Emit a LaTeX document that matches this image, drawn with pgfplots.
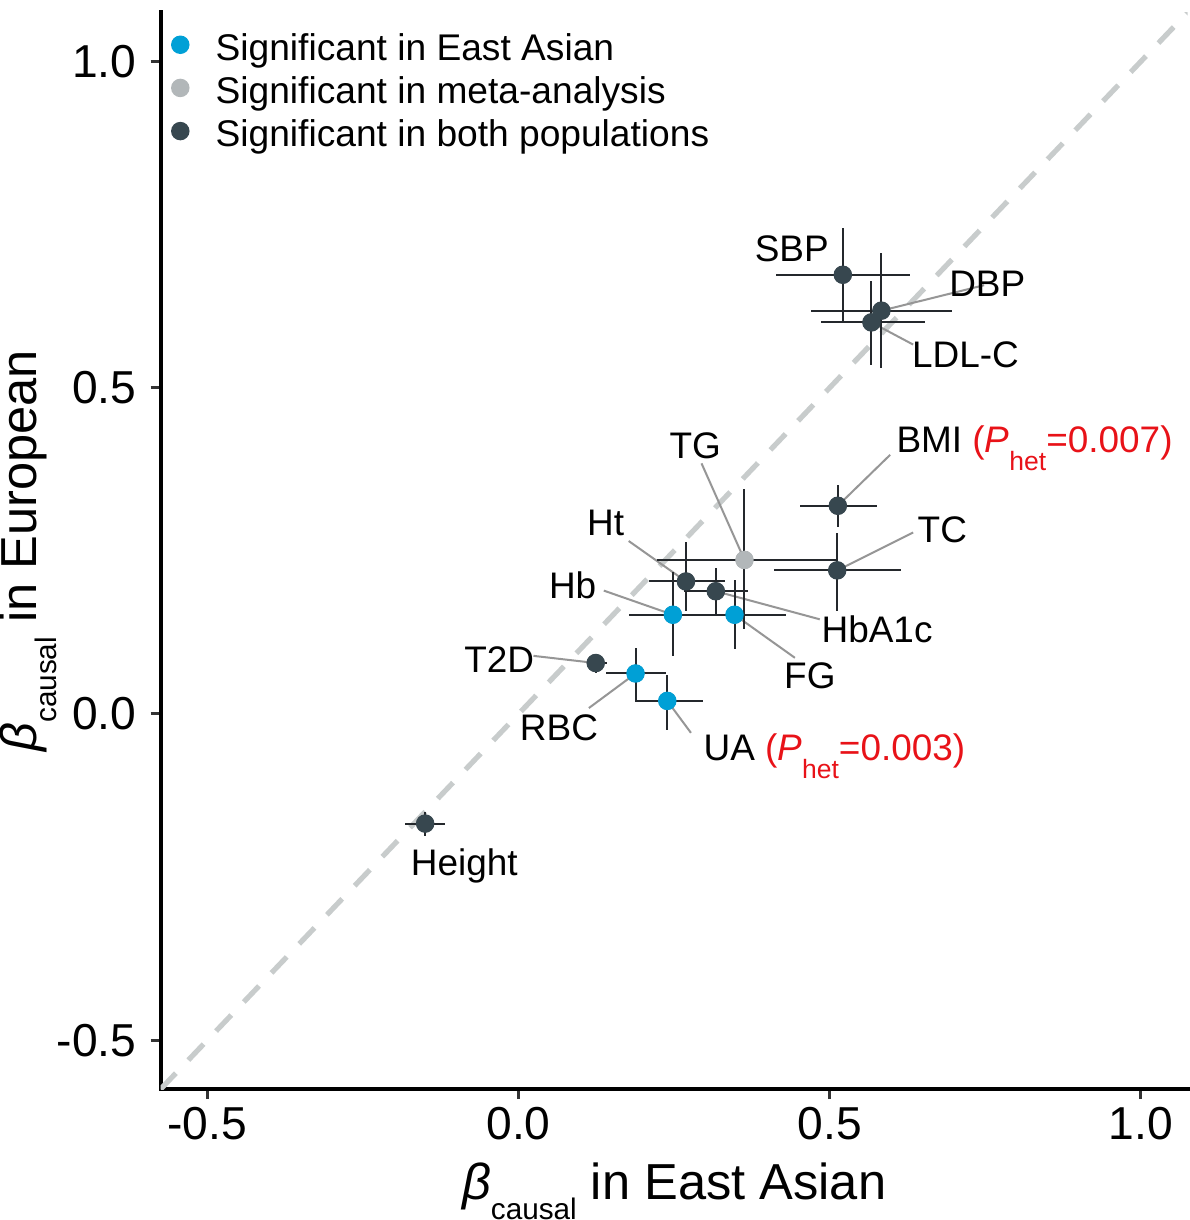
\documentclass[border=0pt]{standalone}
\usepackage{fontspec}
\setmainfont{Liberation Sans}
\usepackage{pgfplots}
\pgfplotsset{compat=1.18}
\usepackage{pgfplotstable}

\definecolor{cblue}{RGB}{0,160,214}
\definecolor{cgrey}{RGB}{178,183,185}
\definecolor{cdark}{RGB}{55,71,79}
\definecolor{cbar}{RGB}{36,40,44}
\definecolor{clead}{RGB}{150,150,150}
\definecolor{cdash}{RGB}{200,204,204}
\definecolor{cred}{RGB}{232,18,24}

% Significant in both populations
\pgfplotstableread{
name x y xm xp ym yp
Height -0.150 -0.168 0.033 0.032 0.019 0.017
T2D 0.124 0.078 0.014 0.018 0.015 0.011
Ht 0.269 0.203 0.059 0.062 0.046 0.060
HbA1c 0.317 0.188 0.051 0.051 0.037 0.035
TC 0.512 0.220 0.101 0.103 0.062 0.058
BMI 0.513 0.319 0.061 0.063 0.033 0.032
SBP 0.521 0.673 0.107 0.108 0.072 0.071
DBP 0.583 0.618 0.113 0.113 0.088 0.089
LDL-C 0.567 0.600 0.081 0.086 0.065 0.063
}\darktable
% Significant in East Asian
\pgfplotstableread{
name x y xm xp ym yp
RBC 0.188 0.062 0.048 0.049 0.044 0.039
UA 0.239 0.020 0.051 0.057 0.044 0.040
Hb 0.248 0.152 0.071 0.072 0.063 0.065
FG 0.347 0.152 0.081 0.083 0.053 0.054
}\bluetable
% Significant in meta-analysis
\pgfplotstableread{
name x y xm xp ym yp
TG 0.363 0.236 0.140 0.150 0.106 0.109
}\greytable

\newcommand{\lab}{\fontsize{9.2}{11}\selectfont}
\newcommand{\het}[1]{\textcolor{cred}{(\textit{P}\raisebox{-4.5pt}{\fontsize{6.6}{7}\selectfont het}=#1)}}
\newcommand{\bc}{{\itshape β}\raisebox{-5pt}{\fontsize{7.4}{8}\selectfont causal}}

\pgfplotsset{
  errs/.style={only marks, mark=none, forget plot,
    error bars/.cd, x dir=both, x explicit, y dir=both, y explicit, error mark=none,
    error bar style={draw=cbar, line width=0.5pt, solid}},
  pts/.style={only marks, mark=*, mark size=2.1pt, #1, mark options={draw=#1, fill=#1}, forget plot},
  lead/.style={clead, line width=0.5pt, forget plot},
}

\begin{document}
\begin{tikzpicture}
\begin{axis}[
  scale only axis, width=255.75pt, height=268.125pt,
  xmin=-0.575, xmax=1.075, ymin=-0.575, ymax=1.075,
  axis x line*=bottom, axis y line*=left,
  axis line style={-, line width=1pt, line cap=rect},
  xtick={-0.5,0,0.5,1}, ytick={-0.5,0,0.5,1},
  tick align=outside, major tick length=2.5pt,
  major tick style={line width=0.75pt, black!80},
  /pgf/number format/.cd, fixed, fixed zerofill, precision=1, assume math mode=true, /pgfplots/.cd,
  tick label style={font=\fontsize{11.5}{13}\selectfont, black},
  xticklabel style={yshift=1.6pt},
  xlabel={\bc{} in East Asian},
  ylabel={\bc{} in European},
  xlabel style={at={(axis description cs:0.5,-0.1026)}, anchor=base, inner sep=0pt, font=\fontsize{12.6}{15}\selectfont},
  ylabel style={at={(axis description cs:-0.1207,0.5)}, anchor=base, inner sep=0pt, font=\fontsize{12.6}{15}\selectfont},
  legend image code/.code={\draw[#1, mark size=2.1pt] plot coordinates {(0pt,1.6pt)}; \path (-2.1pt,0pt) (8.6pt,0pt);},
  legend cell align=left,
  legend style={draw=none, fill=none, at={(rel axis cs:0,1)}, anchor=north west, xshift=2.6pt, yshift=-4.9pt,
    inner sep=0pt, outer sep=0pt, row sep=1.25pt, font=\fontsize{9.25}{11}\selectfont,
    nodes={inner sep=0pt, text height=7pt, text depth=2.5pt}},
]
\addlegendimage{mark=*, cblue, mark options={fill=cblue, draw=cblue}}
\addlegendentry{Significant in East Asian}
\addlegendimage{mark=*, cgrey, mark options={fill=cgrey, draw=cgrey}}
\addlegendentry{Significant in meta-analysis}
\addlegendimage{mark=*, cdark, mark options={fill=cdark, draw=cdark}}
\addlegendentry{Significant in both populations}

\addplot[cdash, line width=1.3pt, dash pattern=on 5.5pt off 4.5pt, forget plot] coordinates {(-0.575,-0.575) (1.075,1.075)};

% leader lines
\addplot[lead] coordinates {(0.748,0.657) (0.583,0.618)};
\addplot[lead] coordinates {(0.634,0.566) (0.567,0.600)};
\addplot[lead] coordinates {(0.294,0.384) (0.363,0.236)};
\addplot[lead] coordinates {(0.597,0.397) (0.513,0.319)};
\addplot[lead] coordinates {(0.634,0.278) (0.512,0.220)};
\addplot[lead] coordinates {(0.177,0.265) (0.269,0.203)};
\addplot[lead] coordinates {(0.137,0.189) (0.248,0.152)};
\addplot[lead] coordinates {(0.484,0.145) (0.317,0.188)};
\addplot[lead] coordinates {(0.444,0.086) (0.347,0.152)};
\addplot[lead] coordinates {(0.024,0.089) (0.124,0.078)};
\addplot[lead] coordinates {(0.113,0.009) (0.188,0.062)};
\addplot[lead] coordinates {(0.277,-0.029) (0.239,0.020)};

% error bars
\addplot[errs] table[x=x, y=y, x error plus=xp, x error minus=xm, y error plus=yp, y error minus=ym] {\darktable};
\addplot[errs] table[x=x, y=y, x error plus=xp, x error minus=xm, y error plus=yp, y error minus=ym] {\bluetable};
\addplot[errs] table[x=x, y=y, x error plus=xp, x error minus=xm, y error plus=yp, y error minus=ym] {\greytable};

% points
\addplot[pts=cdark] table[x=x, y=y] {\darktable};
\addplot[pts=cblue] table[x=x, y=y] {\bluetable};
\addplot[pts=cgrey] table[x=x, y=y] {\greytable};

% labels
\node[anchor=base, font=\lab] at (axis cs:0.439,0.694) {SBP};
\node[anchor=base, font=\lab] at (axis cs:0.753,0.640) {DBP};
\node[anchor=base, font=\lab] at (axis cs:0.718,0.531) {LDL-C};
\node[anchor=base, font=\lab] at (axis cs:0.284,0.391) {TG};
\node[anchor=base west, inner sep=0pt, font=\lab] at (axis cs:0.606,0.401) {BMI \het{0.007}};
\node[anchor=base west, inner sep=0pt, font=\lab] at (axis cs:0.640,0.262) {TC};
\node[anchor=base, font=\lab] at (axis cs:0.140,0.273) {Ht};
\node[anchor=base, font=\lab] at (axis cs:0.087,0.177) {Hb};
\node[anchor=base, font=\lab] at (axis cs:0.576,0.109) {HbA1c};
\node[anchor=base, font=\lab] at (axis cs:0.468,0.039) {FG};
\node[anchor=base, font=\lab] at (axis cs:-0.031,0.063) {T2D};
\node[anchor=base, font=\lab] at (axis cs:0.065,-0.040) {RBC};
\node[anchor=base west, inner sep=0pt, font=\lab] at (axis cs:0.296,-0.071) {UA \het{0.003}};
\node[anchor=base, font=\lab] at (axis cs:-0.087,-0.248) {Height};
\end{axis}
\path (current axis.north west) ++(0pt,3.1pt);
\path (current axis.east) ++(0.4pt,0pt);
\end{tikzpicture}
\end{document}
